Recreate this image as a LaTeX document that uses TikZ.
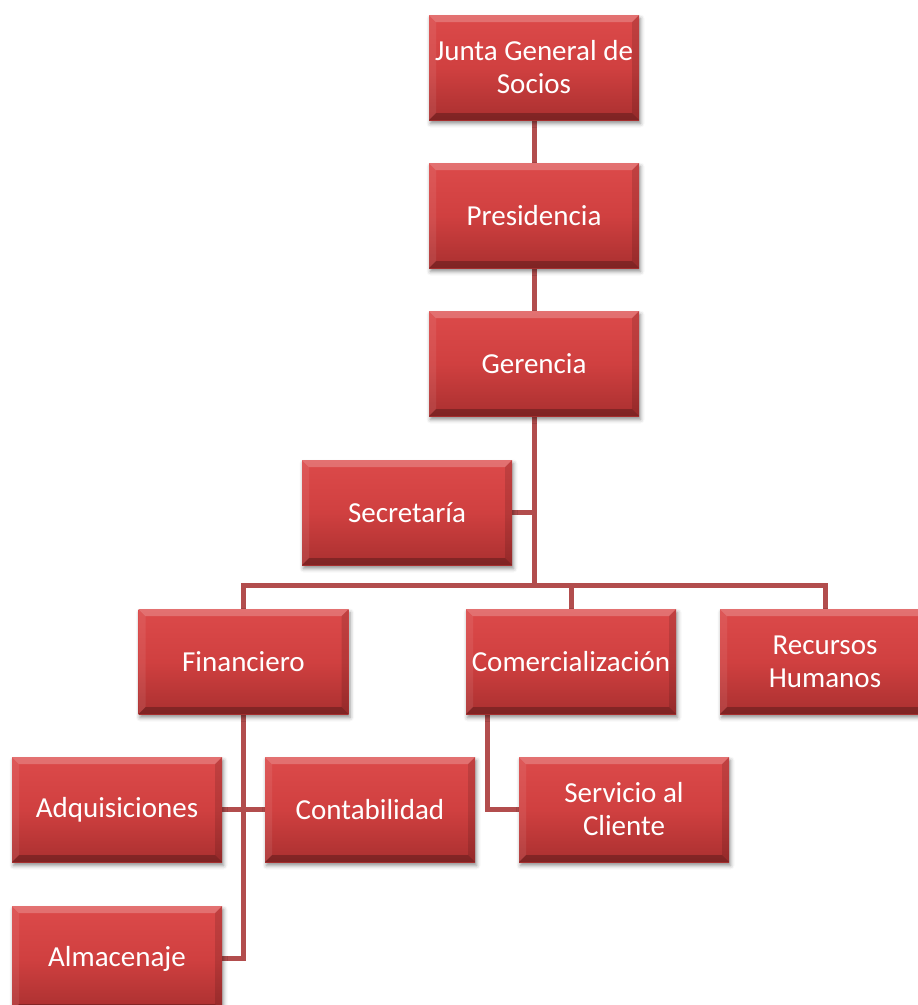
\documentclass[tikz,border=0pt]{standalone}
\usepackage{fontspec}
\setmainfont{Carlito}
\usetikzlibrary{shadows.blur,backgrounds}

\definecolor{boxtop}{RGB}{220,74,74}
\definecolor{boxmid}{RGB}{208,64,64}
\definecolor{boxbot}{RGB}{170,48,48}
\definecolor{linkred}{RGB}{178,77,77}

\tikzset{
  orgbox/.style={
    rectangle, minimum width=210pt, minimum height=105pt, inner sep=0pt,
    align=center, text=white, font=\fontsize{29}{33}\selectfont,
    top color=boxtop, bottom color=boxbot, middle color=boxmid,
    blur shadow={shadow xshift=1.5pt, shadow yshift=-3.5pt,
                 shadow blur radius=4pt, shadow opacity=45},
    path picture={
      % bevelled rim: light on top and left, dark on right and bottom
      \fill[white, opacity=.22]
        (path picture bounding box.north west) -- (path picture bounding box.north east)
        -- ([shift={(-7pt,-7pt)}]path picture bounding box.north east)
        -- ([shift={(7pt,-7pt)}]path picture bounding box.north west) -- cycle;
      \fill[white, opacity=.08]
        (path picture bounding box.north west) -- ([shift={(7pt,-7pt)}]path picture bounding box.north west)
        -- ([shift={(7pt,7pt)}]path picture bounding box.south west)
        -- (path picture bounding box.south west) -- cycle;
      \fill[black, opacity=.12]
        (path picture bounding box.north east) -- ([shift={(-7pt,-7pt)}]path picture bounding box.north east)
        -- ([shift={(-7pt,7pt)}]path picture bounding box.south east)
        -- (path picture bounding box.south east) -- cycle;
      \fill[black, opacity=.25]
        (path picture bounding box.south west) -- (path picture bounding box.south east)
        -- ([shift={(-7pt,7pt)}]path picture bounding box.south east)
        -- ([shift={(7pt,7pt)}]path picture bounding box.south west) -- cycle;
    }
  },
  link/.style={draw=linkred, line width=5pt}
}

\begin{document}
\begin{tikzpicture}[x=1pt, y=-1pt]
  \useasboundingbox (0,0) rectangle (918,1005);
  \begin{scope}
    \clip (0,0) rectangle (918,1005);

    % management chain
    \node[orgbox] (junta) at (534,67.5)  {Junta General de\\Socios};
    \node[orgbox] (pres)  at (534,215.5) {Presidencia};
    \node[orgbox] (ger)   at (534,363.5) {Gerencia};
    \node[orgbox] (sec)   at (407,512.5) {Secretaría};

    % departments
    \node[orgbox] (fin) at (243.5,661.5) {Financiero};
    \node[orgbox] (com) at (571,661.5)   {Comercialización};
    \node[orgbox] (rh)  at (825,661.5)   {Recursos\\Humanos};

    % sub-units
    \node[orgbox] (adq)  at (117,809.5) {Adquisiciones};
    \node[orgbox] (cont) at (370,809.5) {Contabilidad};
    \node[orgbox] (serv) at (624,809.5) {Servicio al\\Cliente};
    \node[orgbox] (alm)  at (117,958.5) {Almacenaje};

    \coordinate (hub) at (534,585.5);

    \begin{scope}[on background layer]
      \draw[link] (junta.south) -- (pres.north);
      \draw[link] (pres.south) -- (ger.north);
      \draw[link] (ger.south) -- (hub);
      \draw[link] (sec.east) -- (sec.east -| ger.south);
      \draw[link] (fin.north) |- (hub) -| (rh.north);
      \draw[link] (hub) -| (com.north);
      \draw[link] (fin.south) |- (alm.east);
      \draw[link] (adq.east) -- (cont.west);
      \draw[link] ([xshift=22pt]com.south west) |- (serv.west);
    \end{scope}
  \end{scope}
\end{tikzpicture}
\end{document}
